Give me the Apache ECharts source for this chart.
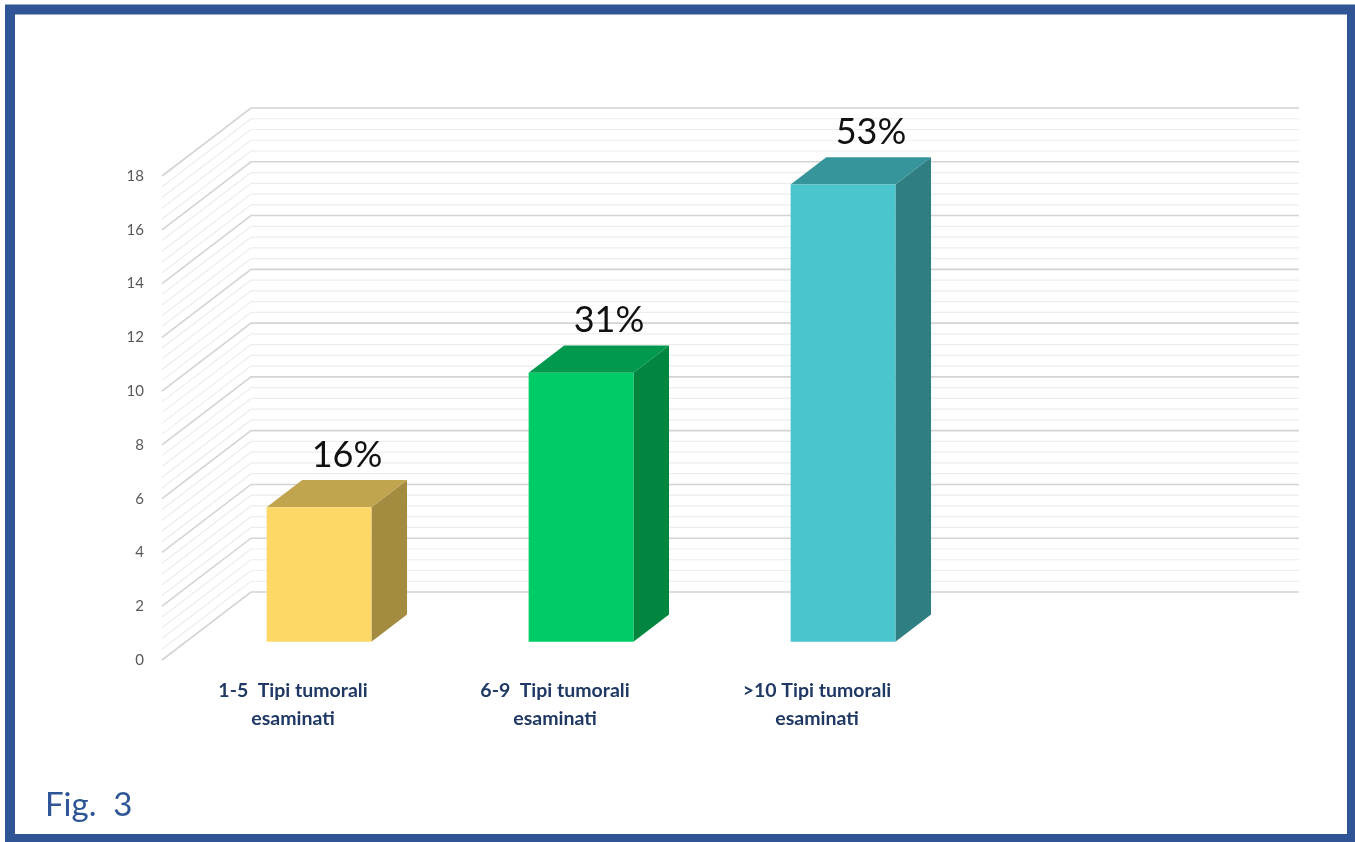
<!DOCTYPE html>
<html>
<head>
<meta charset="utf-8">
<script src="https://cdn.jsdelivr.net/npm/echarts@6/dist/echarts.min.js"></script>
<style>
html,body{margin:0;padding:0;background:#fff;}
#chart{width:1355px;height:842px;}
</style>
</head>
<body>
<div id="chart"></div>
<script>
// ---- data ----
const categories = ['1-5  Tipi tumorali\nesaminati', '6-9  Tipi tumorali\nesaminati', '>10 Tipi tumorali\nesaminati', ''];
const values = [5, 10, 17];
const percentLabels = ['16%', '31%', '53%'];
const yMin = 0, yMax = 18, yInterval = 2, yMinorStep = 0.4;
const frontColors = ['#FDD866', '#00CC66', '#4AC5CE'];
const topColors = ['#C1A44E', '#00994D', '#36959B'];
const sideColors = ['#A38B3F', '#00863F', '#2E7E82'];
const figLabel = 'Fig.  3';

// gridline levels along the axis (axis ticks, not data)
const gridLevels = [];
for (let i = 0; i <= Math.round((yMax - yMin) / yMinorStep); i++) {
  gridLevels.push(+(yMin + i * yMinorStep).toFixed(4));
}

// 3D geometry (pixels)
const DX = 89, DY = -68;      // wall depth
const FRONT = 0.27;           // bar front depth fraction
const BDEPTH = 0.4;           // bar depth fraction
const BARW = 0.4;             // bar width fraction of band

const chart = echarts.init(document.getElementById('chart'));
chart.setOption({
  backgroundColor: '#ffffff',
  animation: false,
  grid: { left: 162, right: 145, top: 176, bottom: 182 },
  xAxis: {
    type: 'category',
    data: categories,
    axisLine: { show: false },
    axisTick: { show: false },
    axisLabel: {
      interval: 0,
      margin: 17,
      color: '#1F3864',
      fontFamily: 'Lato',
      fontWeight: 'bold',
      fontSize: 19.5,
      lineHeight: 28
    },
    splitLine: { show: false }
  },
  yAxis: {
    type: 'value',
    min: yMin, max: yMax, interval: yInterval,
    axisLine: { show: false },
    axisTick: { show: false },
    splitLine: { show: false },
    axisLabel: { color: '#595959', fontSize: 15, fontFamily: 'Lato', margin: 18 }
  },
  graphic: [
    {
      type: 'rect', z: 100,
      shape: { x: 10, y: 9.5, width: 1342, height: 829.5 },
      style: { fill: 'none', stroke: '#2F5597', lineWidth: 10 }
    },
    {
      type: 'text', left: 45, top: 789,
      style: { text: figLabel, fill: '#2F5597', fontSize: 33, fontFamily: 'Lato' }
    }
  ],
  series: [
    {
      type: 'custom',
      z: 1,
      silent: true,
      data: gridLevels.map(v => [0, v]),
      encode: { x: 0, y: 1 },
      renderItem: function (params, api) {
        const v = api.value(1);
        const cs = params.coordSys;
        const y = api.coord([0, v])[1];
        const x0 = cs.x;
        const major = Math.abs(v / yInterval - Math.round(v / yInterval)) < 1e-6;
        return {
          type: 'polyline',
          shape: { points: [[x0, y], [x0 + DX, y + DY], [x0 + DX + cs.width, y + DY]] },
          style: { fill: 'none', stroke: major ? '#D4D4D4' : '#EDEDED', lineWidth: major ? 1.6 : 1.2 }
        };
      }
    },
    {
      type: 'custom',
      z: 2,
      data: values.map((v, i) => [i, v]),
      encode: { x: 0, y: 1 },
      renderItem: function (params, api) {
        const i = api.value(0);
        const base = api.coord([i, 0]);
        const top = api.coord([i, api.value(1)]);
        const bw = api.size([1, 0])[0];
        const w = bw * BARW;
        const ox = DX * FRONT + 2, oy = DY * FRONT;
        const bdx = DX * BDEPTH, bdy = DY * BDEPTH;
        const x0 = base[0] - w / 2 + ox, x1 = x0 + w;
        const yb = base[1] + oy, yt = top[1] + oy;
        return {
          type: 'group',
          children: [
            { type: 'polygon', shape: { points: [[x1, yt], [x1 + bdx, yt + bdy], [x1 + bdx, yb + bdy], [x1, yb]] },
              style: { fill: sideColors[i] } },
            { type: 'polygon', shape: { points: [[x0, yt], [x1, yt], [x1 + bdx, yt + bdy], [x0 + bdx, yt + bdy]] },
              style: { fill: topColors[i] } },
            { type: 'rect', shape: { x: x0, y: yt, width: w, height: yb - yt },
              style: { fill: frontColors[i] } },
            { type: 'text', x: x0 + w / 2 + 28, y: yt + bdy - 25,
              style: { text: percentLabels[i], fill: '#111111', fontSize: 36, fontFamily: 'Lato',
                       align: 'center', verticalAlign: 'middle' } }
          ]
        };
      }
    }
  ]
});
</script>
</body>
</html>
